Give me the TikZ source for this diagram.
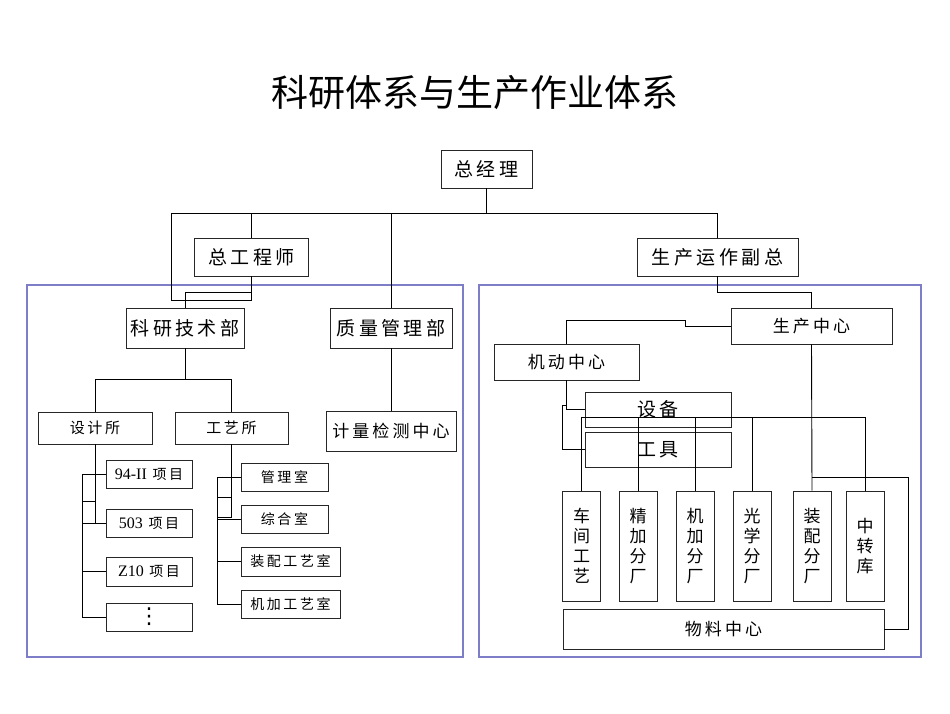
\documentclass[tikz,border=0pt]{standalone}
\usepackage{fontspec}
\setmainfont{Liberation Serif}
\newfontfamily\cjk{Noto Sans CJK SC}[LetterSpace=18]
\newfontfamily\cjkt{Noto Sans CJK SC}
\newfontfamily\dejav{DejaVu Sans}
\newcommand{\lat}[1]{{\rmfamily\fontsize{16}{18}\selectfont #1}}
\definecolor{frameblue}{RGB}{125,125,200}
\tikzset{
  box/.style={draw=black!85, line width=0.9pt, fill=white, inner sep=0pt, anchor=center},
  fbig/.style={font={\fontsize{19}{22}\selectfont\cjk}},
  fmid/.style={font={\fontsize{17}{20}\selectfont\cjk}},
  fsm/.style={font={\fontsize{15}{18}\selectfont\cjk}},
  fxs/.style={font={\fontsize{14}{17}\selectfont\cjk}},
  fvert/.style={font={\fontsize{17}{20}\selectfont\cjkt}, align=center},
  conn/.style={draw=black, line width=0.9pt},
  bframe/.style={draw=frameblue, line width=1.2pt}
}
\begin{document}
\begin{tikzpicture}[x=1pt, y=-1pt]
\useasboundingbox (0,0) rectangle (950,713);
\fill[white] (0,0) rectangle (950,713);

% title
\node[font={\fontsize{37}{40}\selectfont\cjkt}] (title) at (475,93) {科研体系与生产作业体系};

% blue frames
\draw[bframe] (27,285) rectangle (463,657);
\draw[bframe] (479,285) rectangle (921,657);

% top nodes
\node[box, fbig, minimum width=91, minimum height=38] (zjl) at (486.5,169) {总经理};
\node[box, fbig, minimum width=114, minimum height=38] (zgcs) at (251.5,257) {总工程师};
\node[box, fbig, minimum width=161, minimum height=38] (scfz) at (717.5,257) {生产运作副总};

% left side
\node[box, fbig, minimum width=118, minimum height=40] (kyjs) at (185,328) {科研技术部};
\node[box, fbig, minimum width=122, minimum height=40] (zlgl) at (391,328) {质量管理部};
\node[box, fsm, minimum width=114, minimum height=32] (sjs) at (95,428) {设计所};
\node[box, fsm, minimum width=113, minimum height=32] (gys) at (231.5,428) {工艺所};
\node[box, fmid, minimum width=130, minimum height=40] (jljc) at (391,431) {计量检测中心};

\node[box, fxs, minimum width=86, minimum height=28] (p1) at (149,474) {\lat{94-II} 项目};
\node[box, fxs, minimum width=86, minimum height=28] (p2) at (149,523) {\lat{503} 项目};
\node[box, fxs, minimum width=86, minimum height=29] (p3) at (149,571.5) {\lat{Z10} 项目};
\node[box, font={\fontsize{22}{24}\selectfont\dejav}, minimum width=86, minimum height=28] (p4) at (149,617) {⋮};

\node[box, fxs, minimum width=87, minimum height=28] (g1) at (284.5,477) {管理室};
\node[box, fxs, minimum width=87, minimum height=28] (g2) at (284.5,519) {综合室};
\node[box, fxs, minimum width=99, minimum height=29] (g3) at (290.5,561.5) {装配工艺室};
\node[box, fxs, minimum width=99, minimum height=28] (g4) at (290.5,604) {机加工艺室};

% right side
\node[box, fmid, minimum width=161, minimum height=36] (sczx) at (811.5,326) {生产中心};
\node[box, fmid, minimum width=145, minimum height=36] (jdzx) at (566.5,362) {机动中心};
\node[box, fbig, minimum width=146, minimum height=35] (sb) at (658,409.5) {设备};
\node[box, fbig, minimum width=146, minimum height=35] (gj) at (658,449.5) {工具};

\node[box, fvert, minimum width=38, minimum height=110] (v1) at (581.7,546) {车\\间\\工\\艺};
\node[box, fvert, minimum width=38, minimum height=110] (v2) at (638,546) {精\\加\\分\\厂};
\node[box, fvert, minimum width=38, minimum height=110] (v3) at (695,546) {机\\加\\分\\厂};
\node[box, fvert, minimum width=38, minimum height=110] (v4) at (752,546) {光\\学\\分\\厂};
\node[box, fvert, minimum width=38, minimum height=110] (v5) at (812,546) {装\\配\\分\\厂};
\node[box, fvert, minimum width=38, minimum height=110] (v6) at (865,546) {中\\转\\库};
\node[box, fmid, minimum width=321, minimum height=40] (wlzx) at (723.5,629) {物料中心};

% coordinates
\coordinate (busL) at (171,213);
\coordinate (busR) at (717.5,213);
\coordinate (busZ) at (486.5,213);
\coordinate (rbusL) at (581.7,417);
\coordinate (rbusR) at (865,417);

% connectors top
\draw[conn] (zjl.south) -- (busZ);
\draw[conn] (busL) -- (busR);
\draw[conn] (251.5,213) -- (zgcs.north);
\draw[conn] (391,213) -- (zlgl.north);
\draw[conn] (busR) -- (scfz.north);
\draw[conn] (busL) |- (251.5,300) -- (zgcs.south);
\draw[conn] (zgcs.south) |- (185,292) -- (kyjs.north);

% left connectors
\draw[conn] (kyjs.south) -- (185,379);
\draw[conn] (sjs.north) -- (95,379) -- (231.5,379) -- (gys.north);
\draw[conn] (zlgl.south) -- (jljc.north);

\draw[conn] (sjs.south) -- (95,523);
\draw[conn] (82,474) -- (82,617);
\draw[conn] (82,474) -- (p1.west);
\draw[conn] (82,501) -- (95,501);
\draw[conn] (82,523) -- (p2.west);
\draw[conn] (82,571.5) -- (p3.west);
\draw[conn] (82,617) -- (p4.west);

\draw[conn] (gys.south) -- (231.5,517);
\draw[conn] (217,477) -- (217,604);
\draw[conn] (217,477) -- (g1.west);
\draw[conn] (217,497) -- (231.5,497);
\draw[conn] (217,517) -- (231.5,517);
\draw[conn] (217,519) -- (g2.west);
\draw[conn] (217,561.5) -- (g3.west);
\draw[conn] (217,604) -- (g4.west);

% right connectors
\draw[conn] (scfz.south) |- (811.5,292) -- (sczx.north);
\draw[conn] (sczx.west) -- (685,326) -- (685,320) -- (566.5,320) -- (jdzx.north);
\draw[conn] (jdzx.south) |- (sb.west);
\draw[conn] (566.5,405) -- (562,405) |- (gj.west);

\draw[conn] (sczx.south) -- (v5.north);
\draw[conn] (rbusL) -- (rbusR);
\draw[conn] (rbusL) -- (v1.north);
\draw[conn] (638,417) -- (v2.north);
\draw[conn] (695,417) -- (v3.north);
\draw[conn] (752,417) -- (v4.north);
\draw[conn] (rbusR) -- (v6.north);
\draw[conn] (812,477) -- (908,477) |- (wlzx.east);
\end{tikzpicture}
\end{document}
